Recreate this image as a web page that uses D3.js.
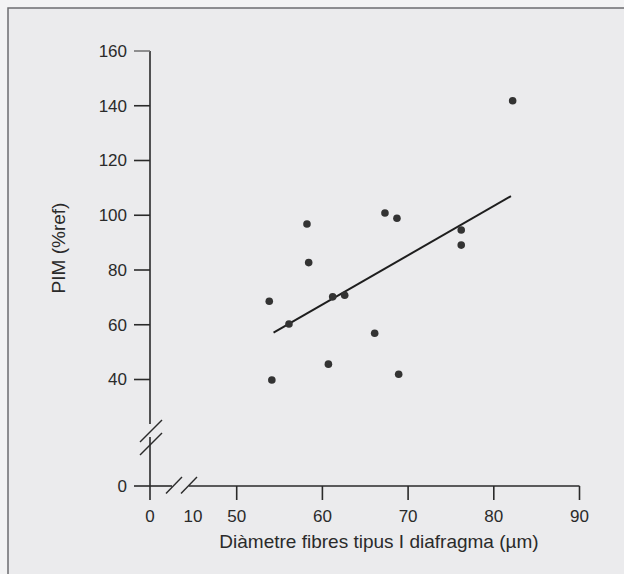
<!DOCTYPE html>
<html>
<head>
<meta charset="utf-8">
<script src="https://cdn.jsdelivr.net/npm/d3@7"></script>
<style>
  body { margin: 0; background: #f3f3f4; }
  svg { display: block; font-family: "Liberation Sans", Arial, sans-serif; }
</style>
</head>
<body>
<div id="chart"></div>
<script>
let width = 624, height = 574;

// fibre diameter (µm) vs PIM (%ref)
let diametre = [82.2, 58.2, 58.4, 53.8, 56.1, 61.2, 62.6, 67.3, 68.7, 76.2, 76.2, 66.1, 60.7, 54.1, 68.9];
let pim      = [141.8, 96.8, 82.7, 68.6, 60.3, 70.2, 70.8, 100.8, 98.9, 94.6, 89.1, 56.9, 45.6, 39.8, 41.9];
// regression line end points
let rectaX = [54.3, 82.0];
let rectaY = [57.1, 107.0];

let xTicks = [0, 10, 50, 60, 70, 80, 90];
let yTicks = [0, 40, 60, 80, 100, 120, 140, 160];

let data = diametre.map((d, i) => ({x: d, y: pim[i]}));

// broken axes -> polylinear scales
let x = d3.scaleLinear()
    .domain([0, 10, 50, 90])
    .range([150, 193, 236.7, 579.5]);
let y = d3.scaleLinear()
    .domain([0, 40, 160])
    .range([486, 379.5, 51]);

let svg = d3.select("#chart").append("svg")
    .attr("width", width)
    .attr("height", height);

// frame (only top and left edges show in the scan)
svg.append("rect").attr("x", 8).attr("y", 8).attr("width", 616).attr("height", 566)
    .attr("fill", "#ebebed");
svg.append("path").attr("d", "M8,574V8H624")
    .attr("fill", "none").attr("stroke", "#6e6e70").attr("stroke-width", 1.5);

let ink = "#2a2a2a";

// y axis
let yAxis = svg.append("g");
yAxis.append("line").attr("x1", x(0)).attr("x2", x(0)).attr("y1", y(160)).attr("y2", 424)
    .attr("stroke", ink).attr("stroke-width", 1.6);
yAxis.append("line").attr("x1", x(0)).attr("x2", x(0)).attr("y1", 437).attr("y2", 500)
    .attr("stroke", ink).attr("stroke-width", 1.6);
yAxis.selectAll(".tick")
    .data(yTicks)
    .join("line")
    .attr("x1", x(0) - 16).attr("x2", x(0))
    .attr("y1", d => y(d)).attr("y2", d => y(d))
    .attr("stroke", d => d === 160 ? "#777" : ink)
    .attr("stroke-width", 1.6);
yAxis.selectAll("text")
    .data(yTicks)
    .join("text")
    .attr("x", x(0) - 23)
    .attr("y", d => y(d))
    .attr("dy", "0.35em")
    .attr("text-anchor", "end")
    .attr("font-size", 17)
    .attr("fill", ink)
    .text(d => d);
// break marks
[0, 13].forEach(o => {
  yAxis.append("line")
    .attr("x1", 140).attr("y1", 442 + o).attr("x2", 162).attr("y2", 420 + o)
    .attr("stroke", ink).attr("stroke-width", 1.4);
});

// x axis
let xAxis = svg.append("g");
xAxis.append("line").attr("x1", x(0)).attr("x2", 172).attr("y1", y(0)).attr("y2", y(0))
    .attr("stroke", ink).attr("stroke-width", 1.6);
xAxis.append("line").attr("x1", 189).attr("x2", x(90)).attr("y1", y(0)).attr("y2", y(0))
    .attr("stroke", ink).attr("stroke-width", 1.6);
xAxis.selectAll(".tick")
    .data(xTicks.filter(d => d >= 50))
    .join("line")
    .attr("x1", d => x(d)).attr("x2", d => x(d))
    .attr("y1", y(0)).attr("y2", y(0) + 14)
    .attr("stroke", ink).attr("stroke-width", 1.6);
xAxis.selectAll("text")
    .data(xTicks)
    .join("text")
    .attr("x", d => x(d))
    .attr("y", y(0) + 36)
    .attr("text-anchor", "middle")
    .attr("font-size", 17)
    .attr("fill", ink)
    .text(d => d);
[0, 15].forEach(o => {
  xAxis.append("line")
    .attr("x1", 166 + o).attr("y1", 493.5).attr("x2", 182 + o).attr("y2", 477)
    .attr("stroke", ink).attr("stroke-width", 1.4);
});

// titles
svg.append("text")
    .attr("x", 379).attr("y", 548)
    .attr("text-anchor", "middle")
    .attr("font-size", 19)
    .attr("fill", ink)
    .text("Diàmetre fibres tipus I diafragma (µm)");
svg.append("text")
    .attr("transform", "translate(65,248) rotate(-90)")
    .attr("text-anchor", "middle")
    .attr("font-size", 19)
    .attr("fill", ink)
    .text("PIM (%ref)");

// regression line
svg.append("line")
    .attr("x1", x(rectaX[0])).attr("y1", y(rectaY[0]))
    .attr("x2", x(rectaX[1])).attr("y2", y(rectaY[1]))
    .attr("stroke", "#1e1e1e").attr("stroke-width", 2);

// points
svg.append("g")
    .selectAll("circle")
    .data(data)
    .join("circle")
    .attr("cx", d => x(d.x))
    .attr("cy", d => y(d.y))
    .attr("r", 3.8)
    .attr("fill", "#333");
</script>
</body>
</html>
